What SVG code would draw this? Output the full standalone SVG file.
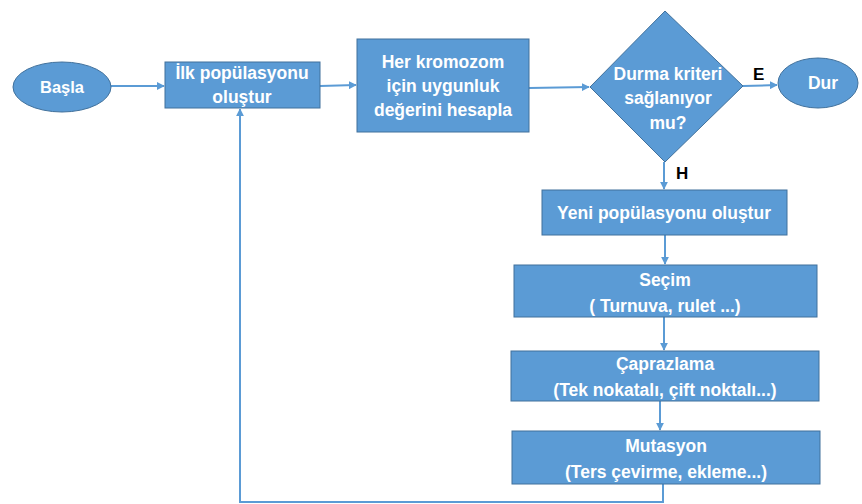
<svg xmlns="http://www.w3.org/2000/svg" width="862" height="504" viewBox="0 0 862 504">
  <style>
    .shape { fill: #5B9BD5; stroke: #41719C; stroke-width: 1; }
    .lbl { font-family: "Liberation Sans", Arial, sans-serif; font-weight: bold; font-size: 17.5px; fill: #FFFFFF; text-anchor: middle; }
    .yn { font-family: "Liberation Sans", Arial, sans-serif; font-weight: bold; font-size: 17px; fill: #000000; }
    .wire { fill: none; stroke: #5B9BD5; stroke-width: 2; }
  </style>
  <defs>
    <marker id="arrow" viewBox="0 0 10 10" refX="9" refY="5" markerWidth="4" markerHeight="4" orient="auto">
      <path d="M0,0 L10,5 L0,10 z" fill="#5B9BD5"/>
    </marker>
  </defs>
  <rect width="862" height="504" fill="#FFFFFF"/>

  <g id="connectors">
    <line class="wire" x1="111" y1="86" x2="164" y2="86" marker-end="url(#arrow)"/>
    <line class="wire" x1="320" y1="86" x2="356" y2="85" marker-end="url(#arrow)"/>
    <line class="wire" x1="529" y1="88" x2="589" y2="87" marker-end="url(#arrow)"/>
    <line class="wire" x1="743" y1="86" x2="777" y2="85" marker-end="url(#arrow)"/>
    <line class="wire" x1="664" y1="162" x2="664" y2="189" marker-end="url(#arrow)"/>
    <line class="wire" x1="665" y1="235" x2="665" y2="264" marker-end="url(#arrow)"/>
    <line class="wire" x1="664" y1="317" x2="664" y2="350" marker-end="url(#arrow)"/>
    <line class="wire" x1="660" y1="401" x2="660" y2="430" marker-end="url(#arrow)"/>
    <polyline class="wire" points="663,484 663,502 240,502 240,109" marker-end="url(#arrow)"/>
  </g>

  <g id="basla">
    <ellipse class="shape" cx="62" cy="87" rx="49" ry="25"/>
    <text class="lbl" x="62" y="93" style="font-size:16.5px">Başla</text>
  </g>

  <g id="ilk-populasyon">
    <rect class="shape" x="165" y="62" width="155" height="46"/>
    <text class="lbl" x="242" y="79">İlk popülasyonu</text>
    <text class="lbl" x="242" y="103">oluştur</text>
  </g>

  <g id="uygunluk">
    <rect class="shape" x="357" y="39" width="172" height="93"/>
    <text class="lbl" x="443" y="68">Her kromozom</text>
    <text class="lbl" x="443" y="92">için uygunluk</text>
    <text class="lbl" x="443" y="116">değerini hesapla</text>
  </g>

  <g id="durma-kriteri">
    <polygon class="shape" points="665,11 743,86 665,162 590,87"/>
    <text class="lbl" x="668" y="80">Durma kriteri</text>
    <text class="lbl" x="668" y="104">sağlanıyor</text>
    <text class="lbl" x="668" y="129">mu?</text>
  </g>

  <g id="dur">
    <ellipse class="shape" cx="818" cy="83" rx="40" ry="25"/>
    <text class="lbl" x="823" y="89">Dur</text>
  </g>

  <g id="branch-labels">
    <text class="yn" x="753" y="80">E</text>
    <text class="yn" x="676" y="179">H</text>
  </g>

  <g id="yeni-populasyon">
    <rect class="shape" x="542" y="190" width="245" height="45"/>
    <text class="lbl" x="664" y="219">Yeni popülasyonu oluştur</text>
  </g>

  <g id="secim">
    <rect class="shape" x="514" y="265" width="303" height="52"/>
    <text class="lbl" x="665" y="286">Seçim</text>
    <text class="lbl" x="665" y="312">( Turnuva, rulet ...)</text>
  </g>

  <g id="caprazlama">
    <rect class="shape" x="511" y="351" width="308" height="50"/>
    <text class="lbl" x="665" y="370">Çaprazlama</text>
    <text class="lbl" x="665" y="396">(Tek nokatalı, çift noktalı...)</text>
  </g>

  <g id="mutasyon">
    <rect class="shape" x="512" y="431" width="308" height="53"/>
    <text class="lbl" x="666" y="452">Mutasyon</text>
    <text class="lbl" x="666" y="478">(Ters çevirme, ekleme...)</text>
  </g>
</svg>
